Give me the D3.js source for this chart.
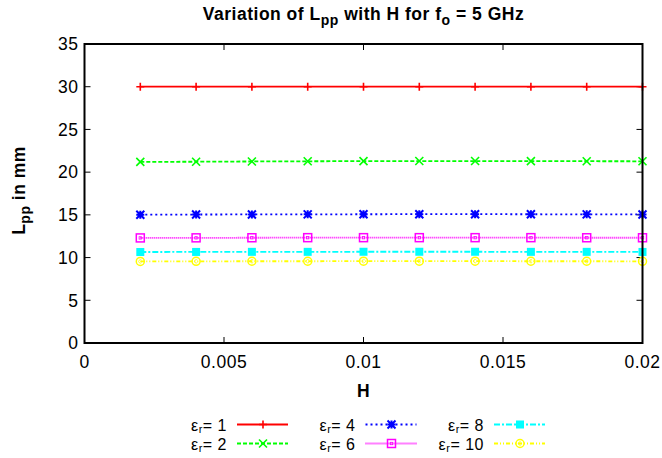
<!DOCTYPE html>
<html>
<head>
<meta charset="utf-8">
<script src="https://cdn.jsdelivr.net/npm/d3@7"></script>
<style>
  html, body { margin: 0; padding: 0; background: #fff; }
  svg text { font-family: "Liberation Sans", Arial, sans-serif; letter-spacing: 0.5px; }
</style>
</head>
<body>
<div id="app"></div>
<script>
// H values (x axis) shared by every curve
const hValues = [0.002, 0.004, 0.006, 0.008, 0.010, 0.012, 0.014, 0.016, 0.018, 0.020];

// L_pp in mm, one array per relative permittivity
const lppEr1 = [30, 30, 30, 30, 30, 30, 30, 30, 30, 30];
const lppEr2 = [21.2, 21.22, 21.25, 21.27, 21.29, 21.3, 21.3, 21.29, 21.28, 21.27];
const lppEr4 = [15.02, 15.04, 15.05, 15.06, 15.07, 15.08, 15.08, 15.07, 15.06, 15.05];
const lppEr6 = [12.3, 12.31, 12.32, 12.33, 12.33, 12.33, 12.33, 12.33, 12.32, 12.32];
const lppEr8 = [10.65, 10.66, 10.67, 10.67, 10.68, 10.68, 10.68, 10.67, 10.67, 10.66];
const lppEr10 = [9.55, 9.56, 9.57, 9.57, 9.58, 9.58, 9.58, 9.57, 9.57, 9.56];

const legendLabels = ["1", "2", "4", "6", "8", "10"];
const xTicks = [0, 0.005, 0.01, 0.015, 0.02];
const yTicks = [0, 5, 10, 15, 20, 25, 30, 35];

const series = [
  { label: legendLabels[0], values: lppEr1, color: "#ff0000", dash: null, marker: "plus" },
  { label: legendLabels[1], values: lppEr2, color: "#00ff00", dash: "4,2", marker: "cross" },
  { label: legendLabels[2], values: lppEr4, color: "#0000ff", dash: "2,3", marker: "star" },
  { label: legendLabels[3], values: lppEr6, color: "#ff00ff", dash: "1,1", marker: "box" },
  { label: legendLabels[4], values: lppEr8, color: "#00ffff", dash: "6,2,2,2", marker: "boxf" },
  { label: legendLabels[5], values: lppEr10, color: "#ffff00", dash: "4,2,1,2,1,2", marker: "circle" }
];

const W = 662, H = 458;
const margin = { left: 84.5, right: 19.5, top: 44, bottom: 115 };

const svg = d3.select("#app").append("svg")
  .attr("width", W).attr("height", H);

const x = d3.scaleLinear().domain([0, 0.02]).range([margin.left, W - margin.right]);
const y = d3.scaleLinear().domain([0, 35]).range([H - margin.bottom, margin.top]);

// ticks, drawn inward on all four sides
const tickLen = 6;
const tk = svg.append("g").attr("stroke", "#000").attr("stroke-width", 1);
xTicks.forEach(v => {
  tk.append("line").attr("x1", x(v)).attr("x2", x(v)).attr("y1", y(0)).attr("y2", y(0) - tickLen);
  tk.append("line").attr("x1", x(v)).attr("x2", x(v)).attr("y1", y(35)).attr("y2", y(35) + tickLen);
});
yTicks.forEach(v => {
  tk.append("line").attr("x1", x(0)).attr("x2", x(0) + tickLen).attr("y1", y(v)).attr("y2", y(v));
  tk.append("line").attr("x1", x(0.02)).attr("x2", x(0.02) - tickLen).attr("y1", y(v)).attr("y2", y(v));
});

// tick labels
const fmtX = d => d === 0 ? "0" : String(+d.toFixed(3));
svg.append("g").selectAll("text").data(xTicks).join("text")
  .attr("x", d => x(d)).attr("y", y(0) + 25)
  .attr("text-anchor", "middle").attr("font-size", 17.5)
  .text(fmtX);
svg.append("g").selectAll("text").data(yTicks).join("text")
  .attr("x", x(0) - 6).attr("y", d => y(d) + 6.3)
  .attr("text-anchor", "end").attr("font-size", 17.5)
  .text(d => d);

// markers
function markerPath(type, s) {
  switch (type) {
    case "plus": return `M${-s},0H${s}M0,${-s}V${s}`;
    case "cross": return `M${-s},${-s}L${s},${s}M${-s},${s}L${s},${-s}`;
    case "star": return `M${-s},0H${s}M0,${-s}V${s}M${-s},${-s}L${s},${s}M${-s},${s}L${s},${-s}`;
    default: return "";
  }
}
function drawMarker(g, type, cx, cy, color) {
  const s = 4;
  if (type === "box") {
    g.append("rect").attr("x", cx - s).attr("y", cy - s).attr("width", 2 * s).attr("height", 2 * s)
      .attr("fill", "none").attr("stroke", color).attr("stroke-width", 1.5);
    g.append("rect").attr("x", cx - 1.2).attr("y", cy - 1.2).attr("width", 2.4).attr("height", 2.4)
      .attr("fill", "none").attr("stroke", color).attr("stroke-width", 0.8);
  } else if (type === "boxf") {
    g.append("rect").attr("x", cx - s).attr("y", cy - s).attr("width", 2 * s).attr("height", 2 * s)
      .attr("fill", color);
  } else if (type === "circle") {
    g.append("circle").attr("cx", cx).attr("cy", cy).attr("r", s)
      .attr("fill", "none").attr("stroke", color).attr("stroke-width", 1.5);
    g.append("path").attr("d", `M${cx + 1.3},${cy - 1.2}A1.7,1.7 0 1 0 ${cx + 1.3},${cy + 1.2}`)
      .attr("fill", "none").attr("stroke", color).attr("stroke-width", 0.8);
  } else {
    g.append("path").attr("transform", `translate(${cx},${cy})`).attr("d", markerPath(type, s))
      .attr("fill", "none").attr("stroke", color).attr("stroke-width", type === "star" ? 2 : 1.6);
  }
}

// curves
const line = d3.line().x(d => x(d[0])).y(d => y(d[1]));
const plot = svg.append("g");
series.forEach(s => {
  const pts = hValues.map((h, i) => [h, s.values[i]]);
  plot.append("path").datum(pts)
    .attr("d", line)
    .attr("fill", "none").attr("stroke", s.color).attr("stroke-width", 1.8)
    .attr("stroke-dasharray", s.dash);
  const mg = plot.append("g");
  pts.forEach(p => drawMarker(mg, s.marker, x(p[0]), y(p[1]), s.color));
});

// frame
svg.append("rect")
  .attr("x", x(0)).attr("y", y(35))
  .attr("width", x(0.02) - x(0)).attr("height", y(0) - y(35))
  .attr("fill", "none").attr("stroke", "#000").attr("stroke-width", 2);

// title
const title = svg.append("text")
  .attr("x", (x(0) + x(0.02)) / 2).attr("y", 20)
  .attr("text-anchor", "middle").attr("font-size", 17.5).attr("font-weight", "bold");
title.append("tspan").text("Variation of L");
title.append("tspan").attr("dy", 5).attr("font-size", 14).text("pp");
title.append("tspan").attr("dy", -5).text(" with H for f");
title.append("tspan").attr("dy", 5).attr("font-size", 14).text("o");
title.append("tspan").attr("dy", -5).text(" = 5 GHz");

// axis labels
svg.append("text")
  .attr("x", (x(0) + x(0.02)) / 2).attr("y", 397)
  .attr("text-anchor", "middle").attr("font-size", 17.5).attr("font-weight", "bold")
  .text("H");

const yl = svg.append("text")
  .attr("transform", `translate(25,${(y(0) + y(35)) / 2 - 3}) rotate(-90)`)
  .attr("text-anchor", "middle").attr("font-size", 17.5).attr("font-weight", "bold");
yl.append("tspan").text("L");
yl.append("tspan").attr("dy", 5).attr("font-size", 14).text("pp");
yl.append("tspan").attr("dy", -5).text(" in mm");

// legend: 3 columns x 2 rows
const legend = svg.append("g");
series.forEach((s, i) => {
  const col = Math.floor(i / 2), row = i % 2;
  const tx = 227 + col * 128.5;
  const ly = 424.5 + row * 19;
  const t = legend.append("text")
    .attr("x", tx).attr("y", ly + 6)
    .attr("text-anchor", "end").attr("font-size", 16);
  t.append("tspan").text("\u03b5");
  t.append("tspan").attr("dy", 2).attr("font-size", 11).text("r");
  t.append("tspan").attr("dy", -2).text("= " + s.label);
  legend.append("line")
    .attr("x1", tx + 10).attr("x2", tx + 61).attr("y1", ly).attr("y2", ly)
    .attr("stroke", s.color).attr("stroke-width", 1.8).attr("stroke-dasharray", s.dash);
  drawMarker(legend, s.marker, tx + 36, ly, s.color);
});
</script>
</body>
</html>
